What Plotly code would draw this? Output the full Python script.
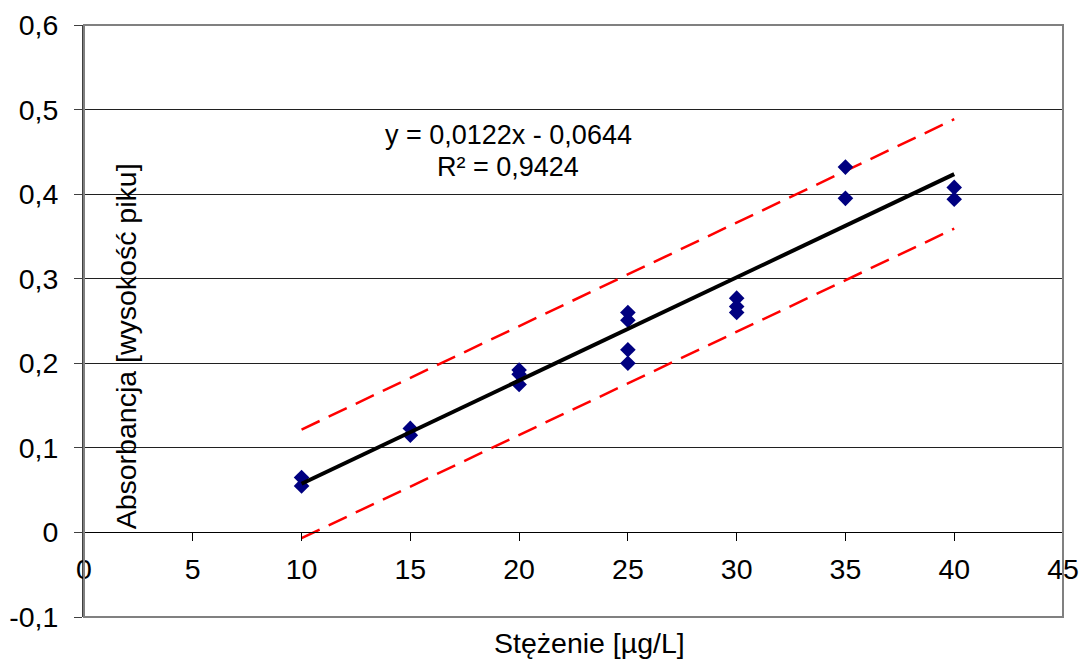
import plotly.graph_objects as go

# Data
conc = [10, 10, 15, 15, 20, 20, 20, 25, 25, 25, 25, 30, 30, 30, 35, 35, 40, 40]
absorb = [0.065, 0.055, 0.123, 0.115, 0.192, 0.187, 0.175, 0.260, 0.251, 0.216, 0.200,
          0.277, 0.267, 0.260, 0.432, 0.395, 0.408, 0.394]

trend_x = [10, 40]
trend_y = [0.0576, 0.4236]
band_upper = [0.1216, 0.4886]
band_lower = [-0.0068, 0.3592]

x_tick_vals = [0, 5, 10, 15, 20, 25, 30, 35, 40, 45]
x_tick_labels = ["0", "5", "10", "15", "20", "25", "30", "35", "40", "45"]
y_tick_vals = [-0.1, 0, 0.1, 0.2, 0.3, 0.4, 0.5, 0.6]
y_tick_labels = ["-0,1", "0", "0,1", "0,2", "0,3", "0,4", "0,5", "0,6"]

eq_text = "y = 0,0122x - 0,0644"
r2_text = "R² = 0,9424"
x_title = "Stężenie [µg/L]"
y_title = "Absorbancja [wysokość piku]"

FONT = "Liberation Sans, Arial, sans-serif"
FS = 28.5
FS_EQ = 27

fig = go.Figure()
fig.add_trace(go.Scatter(x=trend_x, y=band_upper, mode="lines",
                         line=dict(color="#FF0000", width=2.5, dash="20px,10px"),
                         showlegend=False, hoverinfo="skip"))
fig.add_trace(go.Scatter(x=trend_x, y=band_lower, mode="lines",
                         line=dict(color="#FF0000", width=2.5, dash="20px,10px"),
                         showlegend=False, hoverinfo="skip"))
fig.add_trace(go.Scatter(x=conc, y=absorb, mode="markers",
                         marker=dict(symbol="diamond", size=12, color="#000080",
                                     line=dict(width=0)),
                         showlegend=False))
fig.add_trace(go.Scatter(x=trend_x, y=trend_y, mode="lines",
                         line=dict(color="#000000", width=4),
                         showlegend=False, hoverinfo="skip"))

fig.update_layout(
    width=1086, height=664,
    margin=dict(l=84, r=23, t=25, b=47, autoexpand=False),
    paper_bgcolor="white", plot_bgcolor="white",
    font=dict(family=FONT, size=FS, color="black"),
    xaxis=dict(range=[0, 45], tickvals=x_tick_vals, ticktext=x_tick_labels,
               showgrid=False, zeroline=False, automargin=False,
               showline=True, linecolor="black", linewidth=1,
               ticks="outside", ticklen=8, tickcolor="black", tickwidth=1,
               anchor="free", position=1 / 7, ticklabelstandoff=3,
               tickfont=dict(family=FONT, size=FS)),
    yaxis=dict(range=[-0.1, 0.6], tickvals=y_tick_vals, ticktext=y_tick_labels,
               showgrid=True, gridcolor="#202020", gridwidth=1, zeroline=False,
               automargin=False,
               showline=True, linecolor="#404040", linewidth=2,
               ticks="outside", ticklen=8, tickcolor="#404040", tickwidth=1,
               ticklabelstandoff=10,
               tickfont=dict(family=FONT, size=FS)),
    shapes=[dict(type="rect", xref="paper", yref="paper", x0=0, x1=1, y0=0, y1=1,
                 line=dict(color="#808080", width=2), layer="above")],
    annotations=[
        dict(x=19.5, y=0.470, xref="x", yref="y", text=eq_text, showarrow=False,
             xanchor="center", yanchor="middle", font=dict(family=FONT, size=FS_EQ)),
        dict(x=19.5, y=0.432, xref="x", yref="y", text=r2_text, showarrow=False,
             xanchor="center", yanchor="middle", font=dict(family=FONT, size=FS_EQ)),
        dict(x=1.93, y=0.220, xref="x", yref="y", text=y_title, showarrow=False,
             textangle=-90, xanchor="center", yanchor="middle",
             font=dict(family=FONT, size=FS)),
        dict(x=23.25, y=-0.044, xref="x", yref="paper", text=x_title, showarrow=False,
             xanchor="center", yanchor="middle", font=dict(family=FONT, size=FS)),
    ],
)

fig.write_html("out.html", config={"displayModeBar": False},
               post_script="document.body.style.margin='0';document.body.style.overflow='hidden';")
